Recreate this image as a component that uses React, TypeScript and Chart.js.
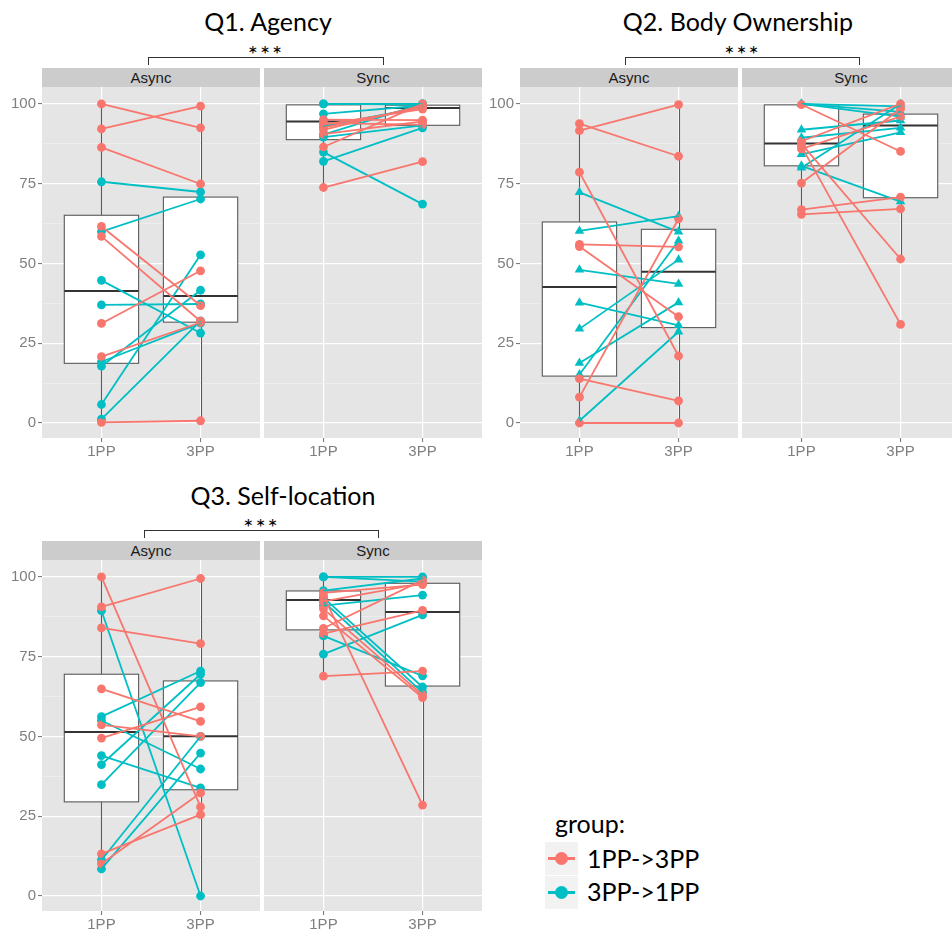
import React, { useEffect, useRef } from "react";
import { Chart, registerables } from "chart.js";

Chart.register(...registerables);

// ---------- labels ----------
const CONDITIONS = ["1PP", "3PP"];
const FACETS = ["Async", "Sync"];
const TITLES = ["Q1. Agency", "Q2. Body Ownership", "Q3. Self-location"];
const SIG_LABEL = "***";
const LEGEND_TITLE = "group:";
const GROUP_LABELS = ["1PP->3PP", "3PP->1PP"];
const Y_MAJOR = [0, 25, 50, 75, 100];
const Y_MINOR = [12.5, 37.5, 62.5, 87.5];

// ---------- Q1 Agency ----------
const q1AsyncRed1PP = [100, 92.2, 86.4, 61.6, 58.5, 31.2, 20.8, 0.2];
const q1AsyncRed3PP = [92.5, 99.3, 74.9, 36.8, 31.9, 47.7, 31.5, 0.7];
const q1AsyncTeal1PP = [75.6, 60.0, 44.7, 37.0, 5.8, 17.8, 19.2, 1.2];
const q1AsyncTeal3PP = [72.4, 70.2, 28.2, 37.3, 52.7, 41.6, 31.3, 32.0];
const q1AsyncBox1PP = [0, 18.7, 41.4, 65.1, 100];
const q1AsyncBox3PP = [0.6, 31.6, 39.8, 70.8, 99.3];

const q1SyncRed1PP = [95.1, 93.5, 91.9, 86.5, 73.8, 94.0, 92.6, 90.5];
const q1SyncRed3PP = [94.9, 98.4, 99.5, 100, 81.9, 93.5, 99.0, 94.5];
const q1SyncTeal1PP = [100, 96.9, 90.4, 89.6, 84.9, 82.0, 100, 93.0];
const q1SyncTeal3PP = [100, 99.5, 100, 93.3, 68.6, 92.5, 99.8, 99.0];
const q1SyncBox1PP = [73.8, 88.8, 94.5, 99.7, 100];
const q1SyncBox3PP = [93.3, 93.3, 98.7, 99.6, 100];

// ---------- Q2 Body Ownership ----------
const q2AsyncRed1PP = [93.8, 91.6, 78.6, 56.0, 55.3, 13.9, 8.1, 0];
const q2AsyncRed3PP = [83.6, 99.8, 21.0, 55.2, 33.3, 6.9, 64.0, 0];
const q2AsyncTeal1PP = [72.3, 60.2, 48.0, 37.7, 29.5, 18.8, 15.2, 0.7];
const q2AsyncTeal3PP = [59.9, 64.8, 43.6, 30.6, 51.2, 37.8, 57.1, 28.6];
const q2AsyncBox1PP = [0, 14.7, 42.6, 63.0, 93.8];
const q2AsyncBox3PP = [0, 29.9, 47.4, 60.7, 99.8];

const q2SyncRed1PP = [99.8, 75.2, 66.9, 65.4, 87.5, 86.7, 88.3, 85.9];
const q2SyncRed3PP = [85.1, 98.5, 70.8, 67.1, 51.4, 30.9, 100, 96.0];
const q2SyncTeal1PP = [100, 100, 100, 91.9, 89.4, 84.2, 80.6, 80.0];
const q2SyncTeal3PP = [97.5, 99.2, 96.0, 94.8, 92.5, 91.1, 69.4, 100];
const q2SyncBox1PP = [65.4, 80.6, 87.6, 99.7, 100];
const q2SyncBox3PP = [51.4, 70.6, 93.2, 96.8, 100];

// ---------- Q3 Self-location ----------
const q3AsyncRed1PP = [100, 90.6, 84.0, 64.9, 53.6, 49.5, 13.2, 10.1];
const q3AsyncRed3PP = [27.9, 99.5, 79.1, 54.7, 50.0, 59.3, 25.5, 32.3];
const q3AsyncTeal1PP = [89.4, 56.2, 55.0, 44.0, 41.2, 34.9, 11.3, 8.5];
const q3AsyncTeal3PP = [0, 70.5, 39.8, 33.9, 69.5, 66.9, 50.0, 44.8];
const q3AsyncBox1PP = [8.5, 29.5, 51.4, 69.5, 100];
const q3AsyncBox3PP = [0, 33.3, 50.1, 67.4, 99.5];

const q3SyncRed1PP = [68.9, 94.1, 92.3, 87.8, 83.9, 82.2, 95.0, 90.0];
const q3SyncRed3PP = [70.5, 28.5, 98.0, 62.2, 99.0, 89.5, 97.6, 63.0];
const q3SyncTeal1PP = [100, 95.7, 93.5, 92.3, 91.0, 81.5, 75.8, 100];
const q3SyncTeal3PP = [100, 99.5, 65.5, 63.8, 94.3, 69.0, 88.1, 98.5];
const q3SyncBox1PP = [68.9, 83.4, 92.8, 95.6, 100];
const q3SyncBox3PP = [28.5, 65.8, 89.0, 98.0, 100];

// ---------- styles ----------
const RED = "#F8766D";
const TEAL = "#00BFC4";
const PANEL_BG = "#E5E5E5";
const STRIP_BG = "#CCCCCC";
const AXIS_TEXT = "#7F7F7F";
const ARIAL = '"Liberation Sans", Arial, sans-serif';
const TITLE_FONT = 'Lato, "Noto Sans", sans-serif';

const AREA_W = 218;
const AREA_H = 351;
const Y_AXIS_W = 42;
const X_AXIS_H = 25;

type PanelSpec = {
  areaLeft: number;
  areaTop: number;
  yAxis: boolean;
  facet: string;
  red1: number[];
  red3: number[];
  teal1: number[];
  teal3: number[];
  box1: number[];
  box3: number[];
  tealStyle: string;
};

const PANELS: PanelSpec[] = [
  { areaLeft: 42, areaTop: 87, yAxis: true, facet: FACETS[0], red1: q1AsyncRed1PP, red3: q1AsyncRed3PP, teal1: q1AsyncTeal1PP, teal3: q1AsyncTeal3PP, box1: q1AsyncBox1PP, box3: q1AsyncBox3PP, tealStyle: "circle" },
  { areaLeft: 264, areaTop: 87, yAxis: false, facet: FACETS[1], red1: q1SyncRed1PP, red3: q1SyncRed3PP, teal1: q1SyncTeal1PP, teal3: q1SyncTeal3PP, box1: q1SyncBox1PP, box3: q1SyncBox3PP, tealStyle: "circle" },
  { areaLeft: 520, areaTop: 87, yAxis: true, facet: FACETS[0], red1: q2AsyncRed1PP, red3: q2AsyncRed3PP, teal1: q2AsyncTeal1PP, teal3: q2AsyncTeal3PP, box1: q2AsyncBox1PP, box3: q2AsyncBox3PP, tealStyle: "triangle" },
  { areaLeft: 742, areaTop: 87, yAxis: false, facet: FACETS[1], red1: q2SyncRed1PP, red3: q2SyncRed3PP, teal1: q2SyncTeal1PP, teal3: q2SyncTeal3PP, box1: q2SyncBox1PP, box3: q2SyncBox3PP, tealStyle: "triangle" },
  { areaLeft: 42, areaTop: 560, yAxis: true, facet: FACETS[0], red1: q3AsyncRed1PP, red3: q3AsyncRed3PP, teal1: q3AsyncTeal1PP, teal3: q3AsyncTeal3PP, box1: q3AsyncBox1PP, box3: q3AsyncBox3PP, tealStyle: "circle" },
  { areaLeft: 264, areaTop: 560, yAxis: false, facet: FACETS[1], red1: q3SyncRed1PP, red3: q3SyncRed3PP, teal1: q3SyncTeal1PP, teal3: q3SyncTeal3PP, box1: q3SyncBox1PP, box3: q3SyncBox3PP, tealStyle: "circle" },
];

const isMajor = (v: any) => typeof v === "number" && Y_MAJOR.includes(v);

function makeBoxPlugin(boxes: number[][]) {
  return {
    id: "panelAndBoxes",
    beforeDraw(chart: any) {
      const { ctx, chartArea: a } = chart;
      ctx.save();
      ctx.fillStyle = PANEL_BG;
      ctx.fillRect(a.left, a.top, a.right - a.left, a.bottom - a.top);
      ctx.restore();
    },
    beforeDatasetsDraw(chart: any) {
      const { ctx } = chart;
      const x = chart.scales.x;
      const y = chart.scales.y;
      ctx.save();
      boxes.forEach((b, i) => {
        const cx = Math.round(x.getPixelForValue(i + 1)) + 0.5;
        const l = x.getPixelForValue(i + 1 - 0.375);
        const r = x.getPixelForValue(i + 1 + 0.375);
        const [lo, q1, md, q3, hi] = b.map((v) => y.getPixelForValue(v));
        ctx.strokeStyle = "#5A5A5A";
        ctx.lineWidth = 1.1;
        ctx.beginPath();
        ctx.moveTo(cx, hi);
        ctx.lineTo(cx, q3);
        ctx.moveTo(cx, q1);
        ctx.lineTo(cx, lo);
        ctx.stroke();
        ctx.fillStyle = "#FFFFFF";
        ctx.fillRect(l, q3, r - l, q1 - q3);
        ctx.strokeRect(l, q3, r - l, q1 - q3);
        ctx.strokeStyle = "#333333";
        ctx.lineWidth = 2;
        ctx.beginPath();
        ctx.moveTo(l, md);
        ctx.lineTo(r, md);
        ctx.stroke();
      });
      ctx.restore();
    },
  };
}

function makeConfig(p: PanelSpec): any {
  const lineSets: any[] = [];
  const groups: [number[], number[], string][] = [
    [p.red1, p.red3, RED],
    [p.teal1, p.teal3, TEAL],
  ];
  groups.forEach(([a, b, c]) => {
    a.forEach((v, i) => {
      lineSets.push({
        data: [
          { x: 1, y: v },
          { x: 2, y: b[i] },
        ],
        showLine: true,
        borderColor: c,
        borderWidth: 1.8,
        pointRadius: 0,
        fill: false,
      });
    });
  });
  const pointSets = groups.map(([a, b, c], gi) => ({
    data: [...a.map((v) => ({ x: 1, y: v })), ...b.map((v) => ({ x: 2, y: v }))],
    showLine: false,
    pointStyle: gi === 1 ? p.tealStyle : "circle",
    pointRadius: gi === 1 && p.tealStyle === "triangle" ? 5.5 : 4.4,
    pointBackgroundColor: c,
    pointBorderColor: c,
    pointBorderWidth: 0,
  }));

  return {
    type: "scatter",
    data: { datasets: [...lineSets, ...pointSets] },
    options: {
      responsive: false,
      animation: false,
      devicePixelRatio: 1,
      layout: { padding: 0, autoPadding: false },
      plugins: { legend: { display: false }, tooltip: { enabled: false } },
      scales: {
        x: {
          type: "linear",
          bounds: "data",
          min: 0.4,
          max: 2.6,
          afterBuildTicks: (s: any) => {
            s.ticks = [1, 2].map((v) => ({ value: v }));
          },
          afterFit: (s: any) => {
            s.height = X_AXIS_H;
            s.paddingLeft = 0;
            s.paddingRight = 0;
          },
          ticks: {
            callback: (v: any) => CONDITIONS[Math.round(v) - 1],
            color: AXIS_TEXT,
            font: { family: ARIAL, size: 15 },
            padding: 1,
            maxRotation: 0,
            autoSkip: false,
          },
          grid: { color: "#FFFFFF", lineWidth: 1.2, tickColor: "#6E6E6E", tickLength: 4, tickWidth: 1 },
          border: { display: false },
        },
        y: {
          type: "linear",
          bounds: "data",
          min: -4.7,
          max: 105.3,
          afterBuildTicks: (s: any) => {
            s.ticks = [...Y_MAJOR, ...Y_MINOR].sort((a, b) => a - b).map((v) => ({ value: v }));
          },
          afterFit: (s: any) => {
            s.width = p.yAxis ? Y_AXIS_W : 0;
            s.paddingTop = 0;
            s.paddingBottom = 0;
          },
          ticks: {
            display: p.yAxis,
            callback: (v: any) => (isMajor(v) ? String(v) : ""),
            color: AXIS_TEXT,
            font: { family: ARIAL, size: 15 },
            padding: 2,
            autoSkip: false,
          },
          grid: {
            color: (c: any) => (isMajor(c.tick && c.tick.value) ? "#FFFFFF" : "#F2F2F2"),
            lineWidth: (c: any) => (isMajor(c.tick && c.tick.value) ? 1.2 : 0.6),
            drawTicks: p.yAxis,
            tickLength: 4,
            tickWidth: 1,
            tickColor: (c: any) => (isMajor(c.tick && c.tick.value) ? "#6E6E6E" : "rgba(0,0,0,0)"),
          },
          border: { display: false },
        },
      },
    },
    plugins: [makeBoxPlugin([p.box1, p.box3])],
  };
}

function Facet({ p }: { p: PanelSpec }) {
  const ref = useRef<HTMLCanvasElement>(null);
  const w = AREA_W + (p.yAxis ? Y_AXIS_W : 0);
  const h = AREA_H + X_AXIS_H;
  const left = p.areaLeft - (p.yAxis ? Y_AXIS_W : 0);
  useEffect(() => {
    if (!ref.current) return;
    const chart = new Chart(ref.current, makeConfig(p));
    return () => chart.destroy();
  }, []);
  return (
    <>
      <div
        style={{
          position: "absolute",
          left: p.areaLeft,
          top: p.areaTop - 19,
          width: AREA_W,
          height: 19,
          background: STRIP_BG,
          color: "#1A1A1A",
          font: `15px ${ARIAL}`,
          lineHeight: "19px",
          textAlign: "center",
        }}
      >
        {p.facet}
      </div>
      <canvas
        ref={ref}
        width={w}
        height={h}
        style={{ position: "absolute", left, top: p.areaTop, width: w, height: h }}
      />
    </>
  );
}

function Title({ text, cx, top }: { text: string; cx: number; top: number }) {
  return (
    <div
      style={{
        position: "absolute",
        left: cx - 200,
        width: 400,
        top,
        textAlign: "center",
        font: `25px ${TITLE_FONT}`,
        lineHeight: "30px",
        color: "#000",
        whiteSpace: "nowrap",
      }}
    >
      {text}
    </div>
  );
}

function Bracket({ x1, x2, y }: { x1: number; x2: number; y: number }) {
  return (
    <>
      <div
        style={{
          position: "absolute",
          left: x1,
          top: y,
          width: x2 - x1,
          height: 8,
          borderTop: "1.5px solid #333",
          borderLeft: "1.5px solid #333",
          borderRight: "1.5px solid #333",
          boxSizing: "border-box",
        }}
      />
      <div
        style={{
          position: "absolute",
          left: (x1 + x2) / 2 - 50,
          width: 100,
          top: y - 15,
          textAlign: "center",
          font: `24px ${TITLE_FONT}`,
          lineHeight: "24px",
          letterSpacing: "2px",
          color: "#000",
        }}
      >
        {SIG_LABEL}
      </div>
    </>
  );
}

function LegendKey({ color, top }: { color: string; top: number }) {
  return (
    <div style={{ position: "absolute", left: 545, top, width: 33, height: 33, background: "#F2F2F2" }}>
      <div style={{ position: "absolute", left: 3, top: 15, width: 27, height: 3, background: color }} />
      <div
        style={{
          position: "absolute",
          left: 10,
          top: 10,
          width: 13,
          height: 13,
          borderRadius: "50%",
          background: color,
        }}
      />
    </div>
  );
}

export default function App() {
  return (
    <div
      style={{
        position: "absolute",
        left: 0,
        top: 0,
        width: 952,
        height: 932,
        overflow: "hidden",
        background: "#FFFFFF",
      }}
    >
      <Title text={TITLES[0]} cx={268} top={6} />
      <Title text={TITLES[1]} cx={738} top={6} />
      <Title text={TITLES[2]} cx={283} top={480} />
      <Bracket x1={148} x2={384} y={57} />
      <Bracket x1={625} x2={860} y={57} />
      <Bracket x1={144} x2={379} y={530} />
      {PANELS.map((p, i) => (
        <Facet key={i} p={p} />
      ))}
      <div style={{ position: "absolute", left: 555, top: 808, font: `25px ${TITLE_FONT}`, lineHeight: "30px", color: "#000" }}>
        {LEGEND_TITLE}
      </div>
      <LegendKey color={RED} top={842} />
      <LegendKey color={TEAL} top={876} />
      <div style={{ position: "absolute", left: 587, top: 843, font: `25px ${TITLE_FONT}`, lineHeight: "30px", color: "#000" }}>
        {GROUP_LABELS[0]}
      </div>
      <div style={{ position: "absolute", left: 587, top: 876, font: `25px ${TITLE_FONT}`, lineHeight: "30px", color: "#000" }}>
        {GROUP_LABELS[1]}
      </div>
    </div>
  );
}
